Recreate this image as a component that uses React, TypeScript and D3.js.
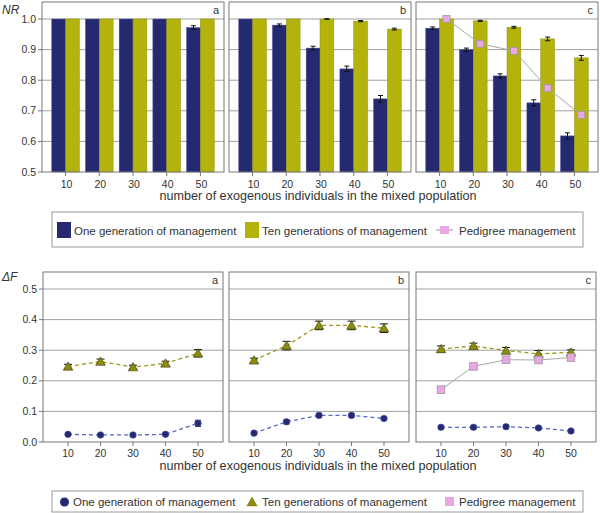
import React from "react";
import * as d3 from "d3";

const categories = ["10", "20", "30", "40", "50"];
const panels = ["a", "b", "c"];

// Top: NR
const nrOne = [
  [1, 1, 1, 1, 0.972],
  [1, 0.98, 0.905, 0.837, 0.739],
  [0.97, 0.9, 0.814, 0.726, 0.618],
];
const nrOneErr = [
  [0, 0, 0, 0, 0.006],
  [0, 0.004, 0.006, 0.009, 0.011],
  [0.004, 0.005, 0.007, 0.01, 0.01],
];
const nrTen = [
  [1, 1, 1, 1, 1],
  [1, 1, 1, 0.993, 0.967],
  [1, 0.994, 0.973, 0.935, 0.873],
];
const nrTenErr = [
  [0, 0, 0, 0, 0],
  [0, 0, 0.001, 0.002, 0.003],
  [0.001, 0.002, 0.003, 0.006, 0.008],
];
const nrPedigree = [1.0, 0.919, 0.896, 0.774, 0.686];

// Bottom: ΔF
const dfOne = [
  [0.025, 0.023, 0.023, 0.025, 0.061],
  [0.029, 0.066, 0.087, 0.087, 0.077],
  [0.048, 0.048, 0.05, 0.046, 0.036],
];
const dfOneErr = [
  [0.003, 0.003, 0.003, 0.003, 0.01],
  [0.004, 0.007, 0.006, 0.005, 0.005],
  [0.005, 0.005, 0.005, 0.005, 0.004],
];
const dfTen = [
  [0.247, 0.263, 0.245, 0.257, 0.29],
  [0.267, 0.315, 0.381, 0.381, 0.372],
  [0.304, 0.314, 0.299, 0.288, 0.293],
];
const dfTenErr = [
  [0.007, 0.008, 0.006, 0.007, 0.012],
  [0.007, 0.014, 0.014, 0.014, 0.014],
  [0.01, 0.009, 0.01, 0.011, 0.008],
];
const dfPedigree = [0.171, 0.247, 0.269, 0.268, 0.276];

const nrTicks = [0.5, 0.6, 0.7, 0.8, 0.9, 1.0];
const dfTicks = [0.0, 0.1, 0.2, 0.3, 0.4, 0.5];

const BLUE = "#25296f";
const YELLOW = "#b4b30c";
const PINK = "#e9a7e6";
const GRID = "#a0a0a0";
const FRAME = "#777";
const TEXT = "#333";
const FONT = "Liberation Sans, Arial, sans-serif";

const topLefts = [42, 229, 416];
const topW = 182;
const botLefts = [43, 229, 416];
const botW = 180;

export default function App() {
  const yTop = d3.scaleLinear().domain([0.5, 1.0556]).range([172, 2]);
  const yBot = d3.scaleLinear().domain([0, 0.5556]).range([442, 272]);

  const errBar = (x: number, y0: number, y1: number, key: string, cap = 3) => (
    <g key={key} stroke="#111" strokeWidth={1}>
      <line x1={x} x2={x} y1={y0} y2={y1} />
      <line x1={x - cap} x2={x + cap} y1={y0} y2={y0} />
      <line x1={x - cap} x2={x + cap} y1={y1} y2={y1} />
    </g>
  );

  const topPanels = panels.map((p, pi) => {
    const left = topLefts[pi];
    const x = d3
      .scaleBand<string>()
      .domain(categories)
      .range([left, left + topW])
      .paddingInner(0.18)
      .paddingOuter(0.29);
    const sub = d3.scaleBand<string>().domain(["one", "ten"]).range([0, x.bandwidth()]);
    const bw = sub.bandwidth();
    const pedLine = d3
      .line<number>()
      .x((_, i) => (x(categories[i]) as number) + (sub("ten") as number) + bw / 2)
      .y((v) => yTop(v));
    return (
      <g key={"top" + p}>
        {nrTicks.slice(1).map((t) => (
          <line key={t} x1={left} x2={left + topW} y1={yTop(t)} y2={yTop(t)} stroke={GRID} strokeWidth={1} />
        ))}
        {categories.map((c, i) => {
          const gx = x(c) as number;
          const x1 = gx + (sub("one") as number);
          const x2 = gx + (sub("ten") as number);
          const cx = gx + x.bandwidth() / 2;
          return (
            <g key={c}>
              <rect x={x1} y={yTop(nrOne[pi][i])} width={bw} height={yTop(0.5) - yTop(nrOne[pi][i])} fill={BLUE} stroke="#4a4f9a" strokeWidth={0.5} />
              <rect x={x2} y={yTop(nrTen[pi][i])} width={bw} height={yTop(0.5) - yTop(nrTen[pi][i])} fill={YELLOW} stroke="#8f8e10" strokeWidth={0.5} />
              {nrOneErr[pi][i] > 0 &&
                errBar(x1 + bw / 2, yTop(nrOne[pi][i] + nrOneErr[pi][i]), yTop(nrOne[pi][i] - nrOneErr[pi][i]), "e1", 2.5)}
              {nrTenErr[pi][i] > 0 &&
                errBar(x2 + bw / 2, yTop(nrTen[pi][i] + nrTenErr[pi][i]), yTop(nrTen[pi][i] - nrTenErr[pi][i]), "e2", 2.5)}
              <line x1={cx} x2={cx} y1={172} y2={176} stroke={FRAME} />
              <text x={cx + 1} y={188} textAnchor="middle" fontSize={10.5} fill={TEXT} fontFamily={FONT}>
                {c}
              </text>
            </g>
          );
        })}
        {pi === 2 && (
          <g>
            <path d={pedLine(nrPedigree) as string} fill="none" stroke="#a8a8a8" strokeWidth={1} />
            {nrPedigree.map((v, i) => {
              const cx = (x(categories[i]) as number) + (sub("ten") as number) + bw / 2;
              return <rect key={i} x={cx - 3.5} y={yTop(v) - 3.5} width={7} height={7} fill={PINK} stroke="#999" strokeWidth={0.8} />;
            })}
          </g>
        )}
        <rect x={left} y={2} width={topW} height={170} fill="none" stroke={FRAME} strokeWidth={1} />
        <text x={left + topW - 5} y={14} textAnchor="end" fontSize={11} fill={TEXT} fontFamily={FONT}>
          {p}
        </text>
      </g>
    );
  });

  const botPanels = panels.map((p, pi) => {
    const left = botLefts[pi];
    const x = d3.scalePoint<string>().domain(categories).range([left, left + botW]).padding(0.77);
    const lineGen = d3
      .line<number>()
      .x((_, i) => x(categories[i]) as number)
      .y((v) => yBot(v));
    const tri = d3.symbol().type(d3.symbolTriangle).size(40)();
    return (
      <g key={"bot" + p}>
        {dfTicks.slice(1).map((t) => (
          <line key={t} x1={left} x2={left + botW} y1={yBot(t)} y2={yBot(t)} stroke={GRID} strokeWidth={1} />
        ))}
        {pi === 2 && (
          <path d={lineGen(dfPedigree) as string} fill="none" stroke="#a8a8a8" strokeWidth={1} />
        )}
        <path d={lineGen(dfTen[pi]) as string} fill="none" stroke="#9a9a1a" strokeWidth={1.3} strokeDasharray="4,3" />
        <path d={lineGen(dfOne[pi]) as string} fill="none" stroke="#5a66c8" strokeWidth={1.3} strokeDasharray="4,3" />
        {categories.map((c, i) => {
          const cx = x(c) as number;
          return (
            <g key={c}>
              {errBar(cx, yBot(dfTen[pi][i] + dfTenErr[pi][i]), yBot(dfTen[pi][i] - dfTenErr[pi][i]), "t", 4)}
              <path d={tri as string} transform={`translate(${cx},${yBot(dfTen[pi][i]) + 1})`} fill="#8c8c12" stroke="#3a3a08" strokeWidth={0.6} />
              {errBar(cx, yBot(dfOne[pi][i] + dfOneErr[pi][i]), yBot(dfOne[pi][i] - dfOneErr[pi][i]), "o", 3)}
              <circle cx={cx} cy={yBot(dfOne[pi][i])} r={3.3} fill={BLUE} stroke="#4a56b0" strokeWidth={0.6} />
              {pi === 2 && (
                <rect x={cx - 3.8} y={yBot(dfPedigree[i]) - 3.8} width={7.6} height={7.6} fill={PINK} stroke="#999" strokeWidth={0.8} />
              )}
              <line x1={cx} x2={cx} y1={442} y2={446} stroke={FRAME} />
              <text x={cx} y={457} textAnchor="middle" fontSize={10.5} fill={TEXT} fontFamily={FONT}>
                {c}
              </text>
            </g>
          );
        })}
        <rect x={left} y={272} width={botW} height={170} fill="none" stroke={FRAME} strokeWidth={1} />
        <text x={left + botW - 5} y={284} textAnchor="end" fontSize={11} fill={TEXT} fontFamily={FONT}>
          {p}
        </text>
      </g>
    );
  });

  const legFont = 11.5;
  return (
    <svg width={600} height={513} style={{ position: "absolute", left: 0, top: 0, background: "#fff" }} fontFamily={FONT}>
      <rect width={600} height={513} fill="#fff" />
      {/* Top y axis */}
      <text x={2} y={14} fontSize={12} fontStyle="italic" fill={TEXT}>NR</text>
      {nrTicks.map((t) => (
        <g key={t}>
          <line x1={38} x2={42} y1={yTop(t)} y2={yTop(t)} stroke={FRAME} />
          <text x={36} y={yTop(t) + 3.5} textAnchor="end" fontSize={10.5} fill={TEXT}>
            {t.toFixed(1)}
          </text>
        </g>
      ))}
      {topPanels}
      <text x={318} y={200} textAnchor="middle" fontSize={12.6} fill={TEXT}>
        number of exogenous individuals in the mixed population
      </text>
      {/* Top legend */}
      <rect x={52} y={212} width={531} height={35} fill="#fff" stroke="#999" strokeWidth={1} />
      <rect x={57} y={222} width={14} height={16} fill={BLUE} />
      <text x={74} y={235} fontSize={legFont} fill={TEXT}>One generation of management</text>
      <rect x={245} y={222} width={14} height={16} fill={YELLOW} />
      <text x={262} y={235} fontSize={legFont} fill={TEXT}>Ten generations of management</text>
      <line x1={436} x2={453} y1={230} y2={230} stroke="#999" />
      <rect x={440} y={226} width={9} height={8} fill={PINK} />
      <text x={459} y={235} fontSize={legFont} fill={TEXT}>Pedigree management</text>

      {/* Bottom y axis */}
      <text x={2} y={281} fontSize={12} fontStyle="italic" fill={TEXT}>ΔF</text>
      {dfTicks.map((t) => (
        <g key={t}>
          <line x1={39} x2={43} y1={yBot(t)} y2={yBot(t)} stroke={FRAME} />
          <text x={37} y={yBot(t) + 3.5} textAnchor="end" fontSize={10.5} fill={TEXT}>
            {t.toFixed(1)}
          </text>
        </g>
      ))}
      {botPanels}
      <text x={318} y={470} textAnchor="middle" fontSize={12.6} fill={TEXT}>
        number of exogenous individuals in the mixed population
      </text>
      {/* Bottom legend */}
      <rect x={52} y={491} width={531} height={21} fill="#fff" stroke="#999" strokeWidth={1} />
      <circle cx={64.5} cy={502} r={4.5} fill={BLUE} />
      <text x={73} y={506} fontSize={legFont} fill={TEXT}>One generation of management</text>
      <path d={d3.symbol().type(d3.symbolTriangle).size(55)() as string} transform="translate(252,503)" fill="#8c8c12" />
      <text x={262} y={506} fontSize={legFont} fill={TEXT}>Ten generations of management</text>
      <rect x={445} y={497} width={9} height={9} fill={PINK} />
      <text x={459} y={506} fontSize={legFont} fill={TEXT}>Pedigree management</text>
    </svg>
  );
}
